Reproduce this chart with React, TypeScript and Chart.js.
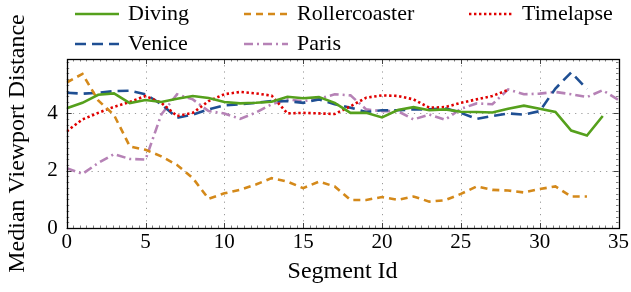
import React, { useEffect, useRef } from "react";
import { Chart, registerables } from "chart.js";

Chart.register(...registerables);

// ---- data ----
const seriesNames = ["Diving", "Rollercoaster", "Timelapse", "Venice", "Paris"];

const divingValues = [
  4.18, 4.37, 4.65, 4.7, 4.36, 4.47, 4.4, 4.51, 4.61, 4.54, 4.4, 4.35, 4.37, 4.41, 4.58, 4.53, 4.57, 4.37,
  4.02, 4.02, 3.86, 4.12, 4.22, 4.11, 4.14, 4.06, 4.05, 4.03, 4.16, 4.27, 4.16, 4.05, 3.4, 3.23, 3.91,
];
const rollercoasterValues = [
  5.08, 5.38, 4.45, 3.95, 2.85, 2.73, 2.5, 2.2, 1.74, 1.02, 1.21, 1.33, 1.52, 1.74, 1.62, 1.39, 1.62, 1.45,
  0.98, 0.98, 1.08, 0.98, 1.1, 0.92, 0.97, 1.19, 1.45, 1.33, 1.31, 1.24, 1.36, 1.45, 1.1, 1.1,
];
const timelapseValues = [
  3.38, 3.79, 4.02, 4.23, 4.4, 4.61, 4.37, 3.91, 4.02, 4.43, 4.67, 4.75, 4.7, 4.62, 4.0, 4.02, 4.0, 3.98,
  4.25, 4.55, 4.63, 4.61, 4.49, 4.2, 4.22, 4.37, 4.49, 4.61, 4.82,
];
const veniceValues = [
  4.72, 4.69, 4.72, 4.78, 4.79, 4.67, 4.32, 3.85, 3.96, 4.14, 4.28, 4.32, 4.37, 4.43, 4.43, 4.37, 4.49, 4.32,
  4.2, 4.05, 4.11, 4.11, 4.14, 4.14, 4.18, 4.02, 3.81, 3.91, 4.0, 3.96, 4.08, 4.87, 5.43, 4.85,
];
const parisValues = [
  2.09, 1.89, 2.27, 2.58, 2.41, 2.39, 3.96, 4.67, 4.49, 4.08, 4.0, 3.81, 4.03, 4.32, 4.49, 4.43, 4.51, 4.67,
  4.63, 4.14, 4.08, 4.08, 3.79, 3.96, 3.78, 4.16, 4.35, 4.32, 4.84, 4.67, 4.69, 4.75, 4.67, 4.57, 4.81, 4.47,
];

const xTickValues = [0, 5, 10, 15, 20, 25, 30, 35];
const yTickValues = [0, 2, 4];
const xTitle = "Segment Id";
const yTitle = "Median Viewport Distance";

// ---- styles ----
const FONT = "'Liberation Serif', 'Times New Roman', serif";
const seriesValues = [divingValues, rollercoasterValues, timelapseValues, veniceValues, parisValues];
const seriesColors = ["#55a01c", "#d4891a", "#e00000", "#1f4f93", "#b682b6"];
const seriesDashes: number[][] = [[], [7, 5], [2.4, 2.6], [11, 6], [9, 4, 2, 4]];

const legendCols = [75, 244, 469];
const legendRows = [14, 44];

const frameAndGridPlugin = {
  id: "frameAndGrid",
  beforeDatasetsDraw(chart: any) {
    const { ctx, chartArea: a, scales } = chart;
    const xs = scales.x;
    const ys = scales.y;
    ctx.save();
    // dotted grid
    ctx.strokeStyle = "#9a9a9a";
    ctx.lineWidth = 1;
    ctx.setLineDash([1.2, 5]);
    xTickValues.forEach((v) => {
      const px = Math.round(xs.getPixelForValue(v)) + 0.5;
      if (px <= a.left + 1 || px >= a.right - 1) return;
      ctx.beginPath();
      ctx.moveTo(px, a.top);
      ctx.lineTo(px, a.bottom);
      ctx.stroke();
    });
    yTickValues.forEach((v) => {
      const py = Math.round(ys.getPixelForValue(v)) + 0.5;
      if (py <= a.top + 1 || py >= a.bottom - 1) return;
      ctx.beginPath();
      ctx.moveTo(a.left, py);
      ctx.lineTo(a.right, py);
      ctx.stroke();
    });
    ctx.setLineDash([]);
    // minor ticks
    ctx.strokeStyle = "#808080";
    const xMin = xs.min, xMax = xs.max;
    const xStep = 5 / 12;
    for (let k = 0; xMin + k * xStep <= xMax + 1e-6; k++) {
      const px = Math.round(xs.getPixelForValue(xMin + k * xStep)) + 0.5;
      ctx.beginPath();
      ctx.moveTo(px, a.bottom);
      ctx.lineTo(px, a.bottom - 2.5);
      ctx.moveTo(px, a.top);
      ctx.lineTo(px, a.top + 2.5);
      ctx.stroke();
    }
    const yStep = 0.2;
    for (let k = 0; k * yStep <= ys.max + 1e-6; k++) {
      const py = Math.round(ys.getPixelForValue(k * yStep)) + 0.5;
      ctx.beginPath();
      ctx.moveTo(a.left, py);
      ctx.lineTo(a.left + 2.5, py);
      ctx.moveTo(a.right, py);
      ctx.lineTo(a.right - 2.5, py);
      ctx.stroke();
    }
    // major ticks
    ctx.strokeStyle = "#444";
    xTickValues.forEach((v) => {
      const px = Math.round(xs.getPixelForValue(v)) + 0.5;
      ctx.beginPath();
      ctx.moveTo(px, a.bottom);
      ctx.lineTo(px, a.bottom - 5);
      ctx.moveTo(px, a.top);
      ctx.lineTo(px, a.top + 5);
      ctx.stroke();
    });
    yTickValues.forEach((v) => {
      const py = Math.round(ys.getPixelForValue(v)) + 0.5;
      ctx.beginPath();
      ctx.moveTo(a.left, py);
      ctx.lineTo(a.left + 5, py);
      ctx.moveTo(a.right, py);
      ctx.lineTo(a.right - 5, py);
      ctx.stroke();
    });
    ctx.restore();
  },
  afterDatasetsDraw(chart: any) {
    const { ctx, chartArea: a } = chart;
    ctx.save();
    ctx.strokeStyle = "#000";
    ctx.lineWidth = 1.3;
    ctx.strokeRect(Math.round(a.left) + 0.5, Math.round(a.top) + 0.5, Math.round(a.right - a.left), Math.round(a.bottom - a.top));
    ctx.restore();
  },
};

const legendPlugin = {
  id: "gridLegend",
  afterDraw(chart: any) {
    const { ctx } = chart;
    ctx.save();
    chart.data.datasets.forEach((ds: any, i: number) => {
      const col = i % 3;
      const row = Math.floor(i / 3);
      const x = legendCols[col];
      const y = legendRows[row];
      ctx.strokeStyle = ds.borderColor;
      ctx.lineWidth = ds.borderWidth;
      ctx.setLineDash(ds.borderDash || []);
      ctx.beginPath();
      ctx.moveTo(x, y);
      ctx.lineTo(x + 44, y);
      ctx.stroke();
      ctx.setLineDash([]);
      ctx.fillStyle = "#000";
      ctx.font = `22px ${FONT}`;
      ctx.textBaseline = "middle";
      ctx.textAlign = "left";
      ctx.fillText(ds.label, x + 53, y);
    });
    ctx.restore();
  },
};

export default function App() {
  const canvasRef = useRef<HTMLCanvasElement | null>(null);

  useEffect(() => {
    const canvas = canvasRef.current;
    if (!canvas) return;
    const datasets = seriesNames.map((name, i) => ({
      label: name,
      data: seriesValues[i].map((v, j) => ({ x: j, y: v })),
      borderColor: seriesColors[i],
      backgroundColor: seriesColors[i],
      borderWidth: 2.6,
      borderDash: seriesDashes[i],
      pointRadius: 0,
      tension: 0,
      fill: false,
    }));
    const chart = new Chart(canvas, {
      type: "line",
      data: { datasets },
      options: {
        responsive: false,
        animation: false,
        devicePixelRatio: 1,
        layout: { padding: { top: 59, right: 10, left: 0, bottom: 0 } },
        plugins: { legend: { display: false }, tooltip: { enabled: false } },
        scales: {
          x: {
            type: "linear",
            min: 0,
            max: 35,
            afterBuildTicks: (s: any) => {
              s.ticks = xTickValues.map((v) => ({ value: v }));
            },
            afterFit: (s: any) => {
              s.height = 64;
            },
            grid: { display: false, drawTicks: false },
            border: { display: false },
            ticks: {
              font: { family: FONT, size: 21 },
              color: "#000",
              padding: 2,
              maxRotation: 0,
              autoSkip: false,
            },
            title: {
              display: true,
              text: xTitle,
              color: "#000",
              font: { family: FONT, size: 24 },
              padding: { top: 0, bottom: 6 },
            },
          },
          y: {
            type: "linear",
            min: 0,
            max: 5.9,
            afterBuildTicks: (s: any) => {
              s.ticks = yTickValues.map((v) => ({ value: v }));
            },
            afterFit: (s: any) => {
              s.width = 66.7;
            },
            grid: { display: false, drawTicks: false },
            border: { display: false },
            ticks: {
              font: { family: FONT, size: 21 },
              color: "#000",
              padding: 9,
              autoSkip: false,
            },
            title: {
              display: true,
              text: yTitle,
              color: "#000",
              font: { family: FONT, size: 24 },
              padding: { top: 3, bottom: 0 },
            },
          },
        },
      },
      plugins: [frameAndGridPlugin, legendPlugin],
    } as any);
    return () => chart.destroy();
  }, []);

  return (
    <div style={{ position: "fixed", left: 0, top: 0, width: 631, height: 292, background: "#fff" }}>
      <canvas ref={canvasRef} width={631} height={292} style={{ display: "block", width: 631, height: 292 }} />
    </div>
  );
}
